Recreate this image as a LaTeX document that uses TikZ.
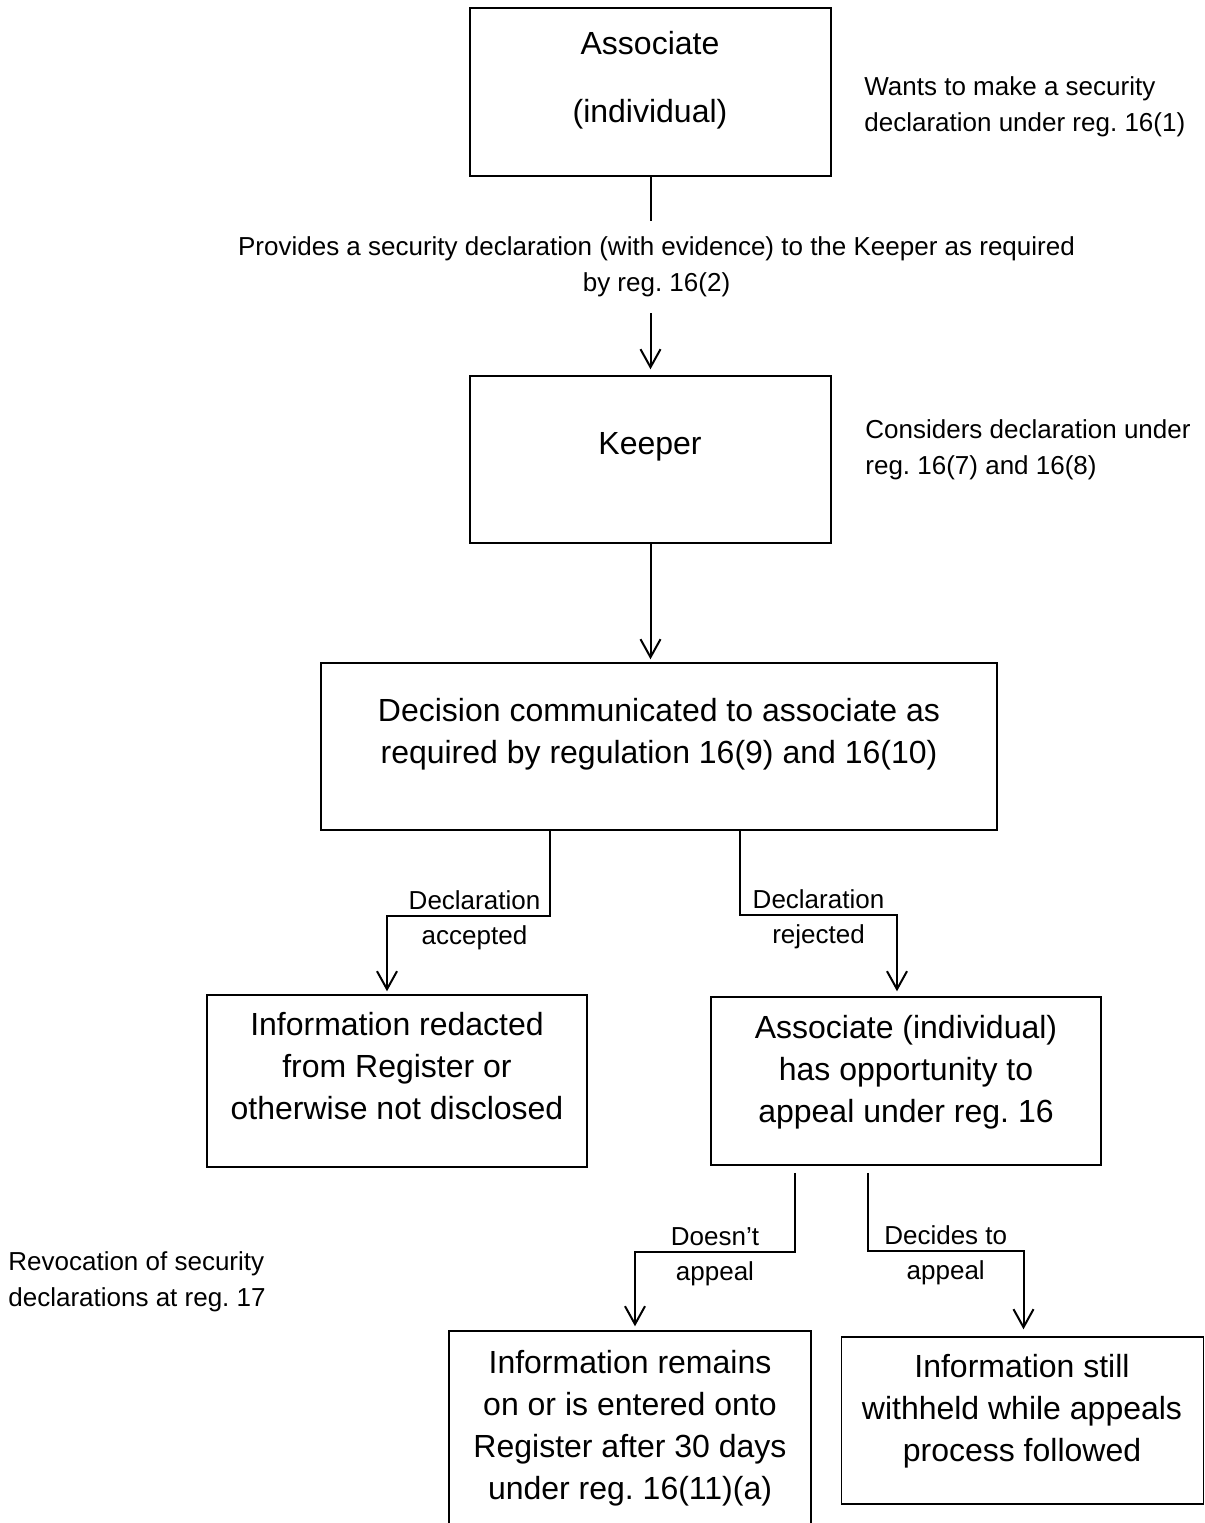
\documentclass[tikz,border=0pt]{standalone}
\usepackage{fontspec}
\setmainfont{Liberation Sans}
\usetikzlibrary{arrows.meta}
\frenchspacing

\def\u{0.5pt}

\begin{document}
\begin{tikzpicture}[x=\u, y=-\u]
			\tikzset{edge/.style={->, >={Straight Barb[length=9pt,width=10pt]}, line width=1pt},
				box/.style={draw, line width=0.75pt, inner sep=0pt},
				big/.style={font=\fontsize{16}{21}\selectfont, align=center},
				small/.style={font=\fontsize{13}{18}\selectfont, align=center},
				lbl/.style={small, font=\fontsize{13}{17.5}\selectfont, pos=0.25, yshift=-2.5pt}}
			\path[use as bounding box, clip] (0,0) rectangle (1205,1523);
			% boxes
			\node[box, minimum width=180.5pt, minimum height=84pt](assoc) at (650.5,92){};
			\node[box, minimum width=180.5pt, minimum height=83.5pt](keeper) at (650.5,459.5){};
			\node[box, minimum width=338pt, minimum height=83.5pt](decision) at (659,746.5){};
			\node[box, minimum width=190pt, minimum height=86pt](redacted) at (397,1081){};
			\node[box, minimum width=195pt, minimum height=84pt](appeal) at (906,1081){};
			\node[box, minimum width=181pt, minimum height=114.5pt](remains) at (630,1445.5){};
			\node[box, minimum width=181pt, minimum height=83.5pt](withheld) at (1022.5,1420.5){};
			% box texts
			\node[big](assoctxt) at (650,80.5){Associate\\[13pt](individual)};
			\node[big](keepertxt) at (650,447){Keeper};
			\node[big](decisiontxt) at (659,734){Decision communicated to associate as\\required by regulation 16(9) and 16(10)};
			\node[big](redactedtxt) at (397,1066){Information redacted\\from Register or\\otherwise not disclosed};
			\node[big](appealtxt) at (906,1072){Associate (individual)\\has opportunity to\\appeal under reg. 16};
			\node[big](remainstxt) at (630,1428){Information remains\\on or is entered onto\\Register after 30 days\\under reg. 16(11)(a)};
			\node[big](withheldtxt) at (1022,1411){Information still\\withheld while appeals\\process followed};
			% side notes
			\node[small, align=left, anchor=west, inner sep=0pt](wants) at (864,107){Wants to make a security\\declaration under reg. 16(1)};
			\node[small, align=left, anchor=west, inner sep=0pt](considers) at (865,449.5){Considers declaration under\\reg. 16(7) and 16(8)};
			\node[small, align=left, anchor=west, inner sep=0pt](revocation) at (8,1282){Revocation of security\\declarations at reg. 17};
			% connectors
			\draw[edge, shorten >=3pt] (assoc) -- node[small, pos=0.455, xshift=3pt, fill=white, inner ysep=8pt]{Provides a security declaration (with evidence) to the Keeper as required\\by reg. 16(2)} (keeper);
			\draw[edge, shorten >=1.5pt] (keeper) -- (keeper.south |- decision.north);
			\draw[edge, shorten >=1.5pt] ([xshift=-54.5pt]decision.south) -- ++(0,85) -| node[lbl, xshift=3pt]{Declaration\\accepted} ([xshift=-5pt]redacted.north);
			\draw[edge, shorten >=2.5pt] ([xshift=40.5pt]decision.south) -- ++(0,84) -| node[lbl]{Declaration\\rejected} ([xshift=-4.5pt]appeal.north);
			\draw[edge, shorten <=3.5pt, shorten >=2pt] ([xshift=-55.5pt]appeal.south) -- ++(0,86) -| node[lbl]{Doesn’t\\appeal} ([xshift=2.5pt]remains.north);
			\draw[edge, shorten <=3.5pt, shorten >=3.5pt] ([xshift=-19pt]appeal.south) -- ++(0,85) -| node[lbl]{Decides to\\appeal} ([xshift=0.5pt]withheld.north);
		\end{tikzpicture}
\end{document}
